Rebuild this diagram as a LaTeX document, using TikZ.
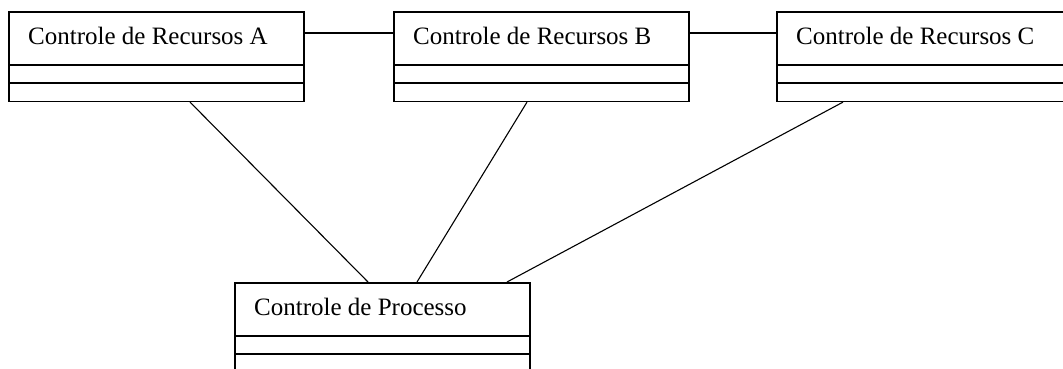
\documentclass[tikz,border=0pt]{standalone}
\usepackage{fontspec}
\setmainfont{Liberation Serif}
\begin{document}
\begin{tikzpicture}[x=1pt, y=-1pt,
  classbox/.style={draw, line width=1.6pt, minimum width=295pt, minimum height=89.5pt,
    inner sep=0pt, anchor=north west},
  divider/.style={line width=1.6pt},
  classname/.style={anchor=base west, inner sep=0pt, font=\fontsize{25}{30}\selectfont},
  link/.style={line width=1.1pt}]
\clip (0,0) rectangle (1063,368);

% a UML class box with a name compartment and two empty compartments
\newcommand{\umlclass}[4]{%
  \node[classbox] (#1) at (#2,#3) {};
  \draw[divider] ([yshift=-54pt]#1.north west) -- ([yshift=-54pt]#1.north east);
  \draw[divider] ([yshift=-72pt]#1.north west) -- ([yshift=-72pt]#1.north east);
  \node[classname] (#1-name) at ([xshift=20pt,yshift=-33pt]#1.north west) {#4};
}

\umlclass{ra}{8}{11}{Controle de Recursos A}
\umlclass{rb}{393}{11}{Controle de Recursos B}
\umlclass{rc}{776}{11}{Controle de Recursos C}
\umlclass{cp}{234}{282}{Controle de Processo}

% associations between resource controllers
\draw[link] ([yshift=-22pt]ra.north east) -- ([yshift=-22pt]rb.north west);
\draw[link] ([yshift=-22pt]rb.north east) -- ([yshift=-22pt]rc.north west);

% associations to the process controller
\draw[link] ([xshift=182pt]ra.south west) -- ([xshift=134pt]cp.north west);
\draw[link] ([xshift=134pt]rb.south west) -- ([xshift=183pt]cp.north west);
\draw[link] ([xshift=67pt]rc.south west) -- ([xshift=273pt]cp.north west);
\end{tikzpicture}
\end{document}
